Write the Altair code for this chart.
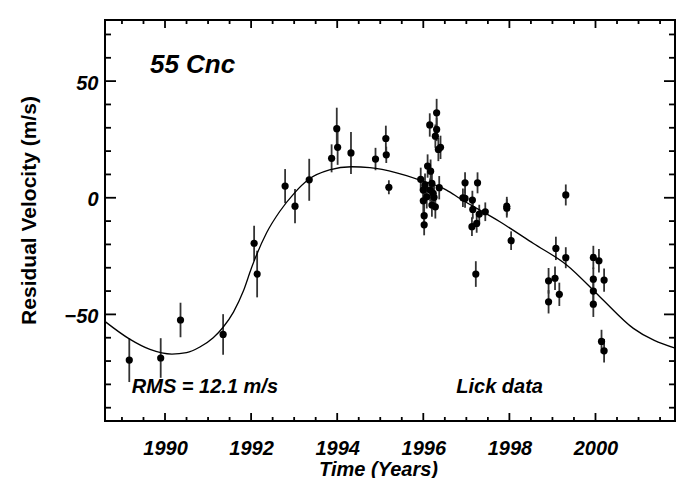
import altair as alt
import pandas as pd

# ---- observations (year, residual velocity m/s, 1-sigma error m/s) ----
years = [1989.17, 1989.90, 1990.36, 1991.35, 1992.07, 1992.14, 1992.79, 1993.02,
         1993.35, 1993.87, 1993.99, 1994.01, 1994.32, 1994.89, 1995.13, 1995.14, 1995.20,
         1995.94, 1996.00, 1996.00, 1996.02, 1996.02, 1996.04, 1996.08, 1996.10, 1996.16,
         1996.17, 1996.20, 1996.20, 1996.23, 1996.25, 1996.28, 1996.37,
         1996.15, 1996.28, 1996.31, 1996.31, 1996.35, 1996.40,
         1996.92, 1996.97, 1996.97, 1997.13, 1997.14, 1997.15, 1997.22, 1997.24, 1997.26,
         1997.30, 1997.44, 1997.94, 1997.94, 1998.04,
         1998.91, 1998.91, 1999.06, 1999.08, 1999.16, 1999.31, 1999.31,
         1999.95, 1999.95, 1999.95, 1999.95, 2000.08, 2000.14, 2000.20, 2000.20]
vel = [-69.6, -68.7, -52.4, -58.6, -19.5, -32.7, 5.0, -3.6,
       7.7, 16.9, 29.6, 21.6, 19.2, 16.6, 25.4, 18.4, 4.5,
       7.9, 3.3, -1.3, -7.7, -11.6, 5.4, 0.4, 13.6, 3.3,
       11.4, 6.2, -3.1, 1.9, 0.2, -3.9, 4.3,
       31.2, 26.4, 29.3, 36.4, 20.7, 21.6,
       0.0, 6.4, -0.3, -12.4, -1.0, -5.0, -32.7, -11.0, 6.4,
       -7.0, -6.0, -3.6, -4.5, -18.4,
       -35.6, -44.6, -34.5, -21.7, -41.4, -25.7, 1.2,
       -25.6, -34.9, -40.0, -45.6, -27.0, -61.6, -35.3, -65.6]
err = [9.4, 8.5, 7.4, 8.7, 7.5, 10.0, 7.3, 7.3,
       9.0, 6.0, 9.0, 7.5, 9.0, 4.8, 5.5, 3.5, 3.0,
       5, 5, 5, 5, 4.5, 5, 5, 5, 5,
       5, 5, 5, 5, 5, 5, 5,
       5, 5, 5, 6, 5, 5,
       4, 4.5, 4, 4, 4, 4, 5.5, 4, 4.5,
       4, 4, 4, 4, 4,
       5.5, 5, 5, 5, 5, 4.5, 4.5,
       5, 5, 5, 5.5, 5, 5, 5, 5]

# ---- fitted orbit curve ----
curve_years = [1988.61, 1989.17, 1989.65, 1990.16, 1990.50, 1990.81, 1991.12, 1991.35,
               1991.59, 1991.82, 1992.01, 1992.36, 1992.66, 1993.00, 1993.34, 1993.82,
               1994.33, 1994.76, 1995.38, 1995.92, 1996.54, 1996.85, 1997.78, 1998.56,
               1999.33, 2000.10, 2000.88, 2001.85]
curve_vel = [-53.1, -60.5, -65.0, -67.0, -66.4, -64.0, -60.0, -55.5,
             -49.0, -40.0, -30.0, -15.0, -6.0, 1.9, 7.9, 11.9,
             13.3, 12.9, 10.7, 7.6, 3.3, -0.3, -10.3, -19.6,
             -28.8, -42.4, -56.0, -64.5]

# ---- axis ticks ----
x_major = [1990, 1992, 1994, 1996, 1998, 2000]
x_minor = [1989.0, 1989.5, 1990.5, 1991.0, 1991.5, 1992.5, 1993.0, 1993.5, 1994.5,
           1995.0, 1995.5, 1996.5, 1997.0, 1997.5, 1998.5, 1999.0, 1999.5, 2000.5,
           2001.0, 2001.5]
y_major = [-50, 0, 50]
y_minor = [-90, -80, -70, -60, -40, -30, -20, -10, 10, 20, 30, 40, 60, 70]

XDOM = [1988.606, 2001.847]
YDOM = [-95.7, 76.2]

obs = pd.DataFrame({"year": years, "v": vel, "e": err})
obs["lo"] = obs["v"] - obs["e"]
obs["hi"] = obs["v"] + obs["e"]
fit = pd.DataFrame({"year": curve_years, "v": curve_vel})

W, H = 570, 401
FONT = "Liberation Sans"

xs = alt.Scale(domain=XDOM, nice=False, zero=False)
ys = alt.Scale(domain=YDOM, nice=False, zero=False)

x_axis = alt.Axis(values=x_major, ticks=False, tickSize=0, domain=False, grid=False,
                  labelFont=FONT, labelFontSize=20, labelFontWeight="bold",
                  labelFontStyle="italic", labelColor="black", labelPadding=17,
                  labelFlush=False, format="d",
                  title="Time  (Years)", titleFont=FONT, titleFontSize=20,
                  titleFontWeight="bold", titleFontStyle="italic", titleColor="black",
                  titleX=273, titleY=54, titleAlign="center", titleBaseline="alphabetic")
y_axis = alt.Axis(values=y_major, ticks=False, tickSize=0, domain=False, grid=False,
                  labelFont=FONT, labelFontSize=20, labelFontWeight="bold",
                  labelFontStyle="italic", labelColor="black", labelPadding=7,
                  labelOffset=2, labelFlush=False,
                  title="Residual Velocity  (m/s)", titleFont=FONT, titleFontSize=21,
                  titleFontWeight="bold", titleColor="black", titleAngle=-90,
                  titleX=-70, titleY=190, titleAlign="center", titleBaseline="alphabetic")

bars = alt.Chart(obs).mark_rule(color="#333333", strokeWidth=1.8).encode(
    x=alt.X("year:Q", scale=xs, axis=x_axis),
    y=alt.Y("lo:Q", scale=ys, axis=y_axis),
    y2="hi:Q",
)
pts = alt.Chart(obs).mark_circle(size=52, color="black", opacity=1).encode(
    x=alt.X("year:Q", scale=xs, axis=x_axis),
    y=alt.Y("v:Q", scale=ys, axis=y_axis),
)
line = alt.Chart(fit).mark_line(color="black", strokeWidth=1.3, interpolate="monotone").encode(
    x=alt.X("year:Q", scale=xs, axis=x_axis),
    y=alt.Y("v:Q", scale=ys, axis=y_axis),
)

def xticks(vals, length, top):
    df = pd.DataFrame({"t": vals})
    y0, y1 = (0, length) if top else (H, H - length)
    return alt.Chart(df).mark_rule(color="black", strokeWidth=1.8).encode(
        x=alt.X("t:Q", scale=xs, axis=x_axis),
        y=alt.value(y0), y2=alt.value(y1))

def yticks(vals, length, right):
    df = pd.DataFrame({"t": vals})
    x0, x1 = (W, W - length) if right else (0, length)
    return alt.Chart(df).mark_rule(color="black", strokeWidth=1.8).encode(
        y=alt.Y("t:Q", scale=ys, axis=y_axis),
        x=alt.value(x0), x2=alt.value(x1))

ticks = [xticks(x_major, 8, False), xticks(x_major, 8, True),
         xticks(x_minor, 4, False), xticks(x_minor, 4, True),
         yticks(y_major, 11, False), yticks(y_major, 11, True),
         yticks(y_minor, 6, False), yticks(y_minor, 6, True)]

def label(text, xv, yv, align, size):
    return alt.Chart(pd.DataFrame({"a": [0]})).mark_text(
        text=text, align=align, baseline="alphabetic", font=FONT, fontSize=size,
        fontWeight="bold", fontStyle="italic", color="black").encode(
        x=alt.datum(xv, scale=xs), y=alt.datum(yv, scale=ys))

t1 = label("55 Cnc", 1989.65, 53.4, "left", 26)
t2 = label("RMS = 12.1 m/s", 1989.23, -83.7, "left", 20)
t3 = label("Lick data", 1998.78, -83.7, "right", 20)

chart = alt.layer(bars, line, pts, *ticks, t1, t2, t3).properties(
    width=W, height=H,
    padding={"left": 105, "top": 20, "right": 9, "bottom": 57},
    autosize=alt.AutoSizeParams(type="none"),
    background="white",
).configure_view(stroke="black", strokeWidth=2)

chart.save("out.html", embed_options={"renderer": "svg", "actions": False})
